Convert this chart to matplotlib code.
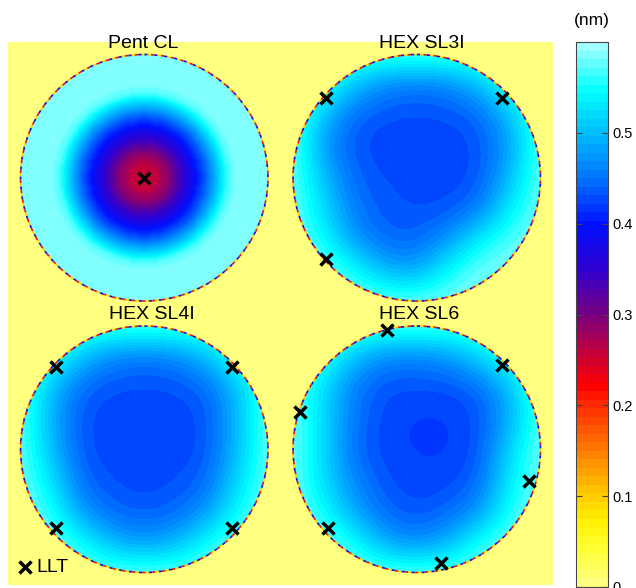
import numpy as np
import matplotlib
matplotlib.use("Agg")
import matplotlib.pyplot as plt
from matplotlib.colors import LinearSegmentedColormap, Normalize
from matplotlib.cm import ScalarMappable
from matplotlib.patches import Circle

plt.rcParams['font.family'] = ['Liberation Sans', 'DejaVu Sans']

# colour scale (nm)
cmap_pos = [0.0, 0.04, 0.07, 0.1, 0.15, 0.2, 0.22, 0.26, 0.3, 0.35, 0.4, 0.45, 0.5, 0.55, 0.6]
cmap_rgb = ['#ffff80', '#ffff30', '#fff000', '#ffc800', '#ff7800', '#ff2800', '#ff0000',
            '#c00040', '#780080', '#3000d0', '#0010ff', '#0070ff', '#00b8ff', '#00ffff', '#a0ffff']
vmin, vmax = 0.0, 0.6
cbar_ticks = [0, 0.1, 0.2, 0.3, 0.4, 0.5]
cbar_labels = ['0', '0.1', '0.2', '0.3', '0.4', '0.5']

panel_names = ['Pent CL', 'HEX SL3I', 'HEX SL4I', 'HEX SL6']

# Pent CL is radially symmetric: value vs normalised radius
pent_r = [0.0, 0.1, 0.2, 0.3, 0.4, 0.5, 0.6, 0.68, 0.75, 1.0]
pent_v = [0.25, 0.26, 0.29, 0.34, 0.39, 0.44, 0.51, 0.57, 0.585, 0.59]

# HEX panels: values on a 9x9 grid over the pupil (rows top->bottom)
grid_pts = [-1, -0.75, -0.5, -0.25, 0, 0.25, 0.5, 0.75, 1]
sl3i = [
    [0.585, 0.585, 0.585, 0.585, 0.585, 0.585, 0.585, 0.585, 0.585],
    [0.585, 0.57, 0.50, 0.46, 0.45, 0.46, 0.50, 0.57, 0.585],
    [0.585, 0.50, 0.44, 0.43, 0.43, 0.43, 0.44, 0.50, 0.585],
    [0.585, 0.47, 0.43, 0.425, 0.42, 0.425, 0.43, 0.48, 0.585],
    [0.585, 0.50, 0.44, 0.43, 0.425, 0.425, 0.43, 0.50, 0.585],
    [0.585, 0.52, 0.45, 0.435, 0.43, 0.43, 0.45, 0.54, 0.585],
    [0.585, 0.55, 0.47, 0.44, 0.44, 0.47, 0.54, 0.575, 0.585],
    [0.585, 0.585, 0.55, 0.49, 0.48, 0.55, 0.585, 0.585, 0.585],
    [0.585, 0.585, 0.585, 0.585, 0.585, 0.585, 0.585, 0.585, 0.585],
]
sl4i = [
    [0.585, 0.585, 0.585, 0.585, 0.585, 0.585, 0.585, 0.585, 0.585],
    [0.585, 0.57, 0.50, 0.46, 0.45, 0.46, 0.50, 0.57, 0.585],
    [0.585, 0.50, 0.44, 0.43, 0.43, 0.43, 0.44, 0.50, 0.585],
    [0.585, 0.49, 0.43, 0.425, 0.42, 0.425, 0.43, 0.50, 0.585],
    [0.585, 0.50, 0.43, 0.425, 0.42, 0.425, 0.43, 0.50, 0.585],
    [0.585, 0.53, 0.44, 0.43, 0.425, 0.43, 0.44, 0.52, 0.585],
    [0.585, 0.56, 0.47, 0.44, 0.435, 0.44, 0.47, 0.55, 0.585],
    [0.585, 0.585, 0.55, 0.49, 0.47, 0.49, 0.55, 0.585, 0.585],
    [0.585, 0.585, 0.585, 0.585, 0.585, 0.585, 0.585, 0.585, 0.585],
]
sl6 = [
    [0.585, 0.585, 0.585, 0.585, 0.585, 0.585, 0.585, 0.585, 0.585],
    [0.585, 0.57, 0.50, 0.46, 0.46, 0.47, 0.52, 0.57, 0.585],
    [0.585, 0.52, 0.45, 0.43, 0.43, 0.43, 0.44, 0.50, 0.585],
    [0.585, 0.52, 0.45, 0.425, 0.42, 0.42, 0.43, 0.49, 0.585],
    [0.585, 0.52, 0.44, 0.425, 0.42, 0.42, 0.43, 0.52, 0.585],
    [0.585, 0.52, 0.46, 0.43, 0.425, 0.425, 0.44, 0.54, 0.585],
    [0.585, 0.55, 0.48, 0.44, 0.43, 0.44, 0.47, 0.56, 0.585],
    [0.585, 0.585, 0.55, 0.48, 0.46, 0.49, 0.56, 0.585, 0.585],
    [0.585, 0.585, 0.585, 0.585, 0.585, 0.585, 0.585, 0.585, 0.585],
]

# LLT positions, normalised pupil coords (x right, y down)
llt_x = [[0.0],
         [-0.73, 0.69, -0.73],
         [-0.71, 0.71, -0.71, 0.71],
         [-0.24, 0.69, -0.94, 0.91, -0.72, 0.20]]
llt_y = [[0.0],
         [-0.65, -0.65, 0.66],
         [-0.67, -0.67, 0.64, 0.64],
         [-0.97, -0.68, -0.30, 0.26, 0.64, 0.92]]

cmap = LinearSegmentedColormap.from_list(
    'wfe', list(zip(np.array(cmap_pos) / vmax, cmap_rgb)), N=64)
norm = Normalize(vmin, vmax)

fig = plt.figure(figsize=(6.36, 5.88), dpi=100)
ax = fig.add_axes([8 / 636, 3 / 588, 545 / 636, 543 / 588])
ax.set_facecolor(cmap(0.0))
ax.set_xlim(0, 2)
ax.set_ylim(2, 0)
ax.set_xticks([])
ax.set_yticks([])
for s in ax.spines.values():
    s.set_visible(False)

centers = [(0.5, 0.5), (1.5, 0.5), (0.5, 1.5), (1.5, 1.5)]
title_x = [0.495, 1.518, 0.527, 1.508]
title_y = [0.005, 0.005, 1.004, 1.004]
R = 0.454

# pent field from the radial profile
u = np.linspace(-1, 1, 101)
uu, vv = np.meshgrid(u, u)
pent = np.interp(np.hypot(uu, vv), pent_r, pent_v)

fields = [pent, np.array(sl3i), np.array(sl4i), np.array(sl6)]
for i, (cx, cy) in enumerate(centers):
    f = fields[i]
    n = f.shape[0]
    half = R * (1 + 1.0 / (n - 1))
    im = ax.imshow(f, cmap=cmap, norm=norm, interpolation='bicubic',
                   extent=(cx - half, cx + half, cy + half, cy - half), aspect='auto')
    clip = Circle((cx, cy), R, transform=ax.transData)
    im.set_clip_path(clip)
    # speckled rim
    for off, col in zip([0, 2, 4], ['#1010d0', '#f01010', '#ffd000']):
        ax.add_patch(Circle((cx, cy), R, fill=False, ec=col, lw=1.2,
                            ls=(off, (2, 4))))
    ax.plot(cx + R * np.array(llt_x[i]), cy + R * np.array(llt_y[i]),
            'x', color='black', ms=8, mew=2.5)
    ax.text(title_x[i], title_y[i], panel_names[i], fontsize=14,
            ha='center', va='center')

# LLT key
ax.plot([0.062], [1.934], 'x', color='black', ms=8, mew=2.5)
ax.text(0.104, 1.934, 'LLT', fontsize=14, ha='left', va='center')

cax = fig.add_axes([576 / 636, 1 / 588, 32 / 636, 545 / 588])
cb = fig.colorbar(ScalarMappable(norm=norm, cmap=cmap), cax=cax, ticks=cbar_ticks)
cb.ax.set_yticklabels(cbar_labels)
cb.ax.tick_params(direction='in', left=True, right=True, length=4, labelsize=10.5,
                  color='#444444', width=0.8)
cb.outline.set_linewidth(0.8)
cb.outline.set_edgecolor('#444444')
fig.text(592 / 636, 1 - 20 / 588, '(nm)', fontsize=12.5, ha='center', va='center')

fig.savefig('out.png', dpi=100)
